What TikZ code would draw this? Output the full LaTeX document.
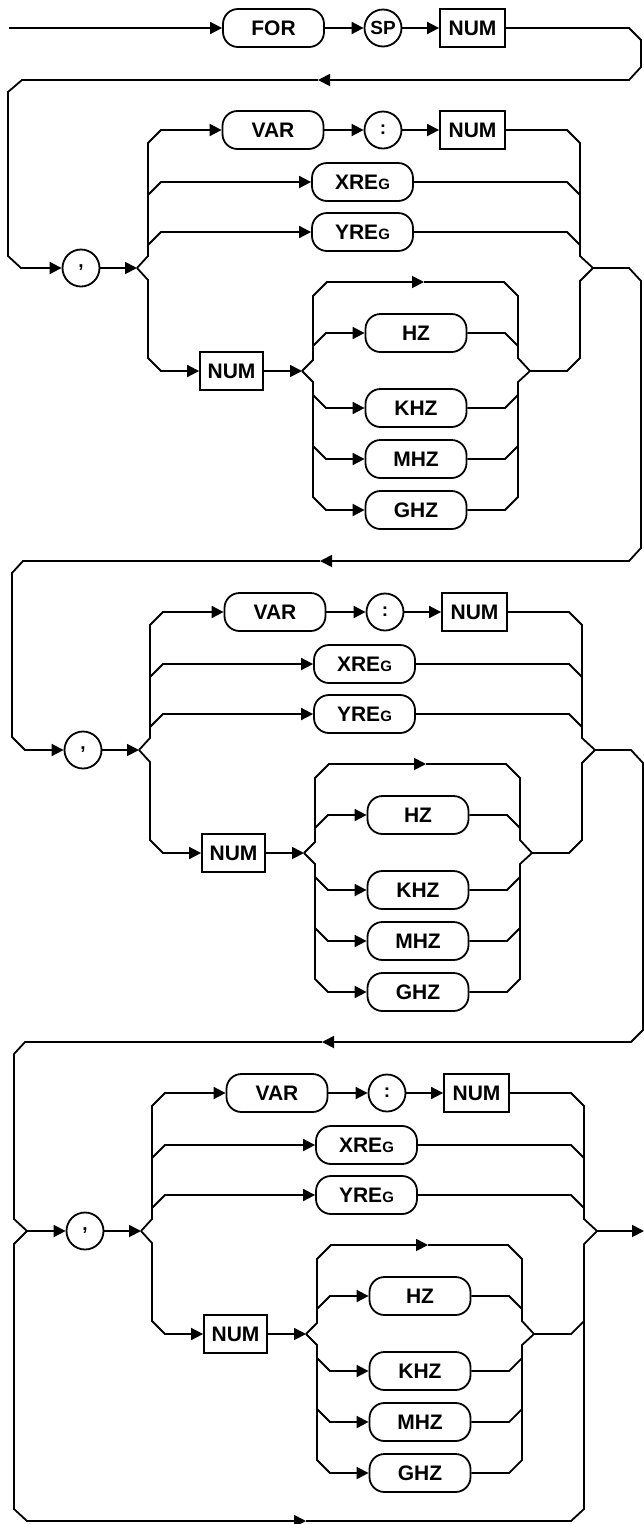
\documentclass[tikz,border=0pt]{standalone}
\usepackage{fontspec}
\setmainfont{Liberation Sans}
\usetikzlibrary{arrows.meta}
\newcommand\sgG{{\fontsize{15}{15}\selectfont G}}
\newcommand\drawgrp[3]{%
\begin{scope}[shift={(#3,#2)}]
\node[circ] (cm#1) at (81,268) {,};
\coordinate (ja#1) at (137,268);
\coordinate (jb#1) at (593,268);
\coordinate (jc#1) at (302,371);
\coordinate (jd#1) at (530,371);
\coordinate (lt#1) at (424,282);
\node[rbox] (var#1) at (273,130) {VAR};
\node[circ] (col#1) at (383,130) {:};
\node[sbox, minimum width=65] (nua#1) at (472.5,130) {NUM};
\node[rbox] (xr#1) at (362.5,182) {XRE\sgG};
\node[rbox] (yr#1) at (362.5,232) {YRE\sgG};
\node[sbox, minimum width=63] (nub#1) at (231.5,371) {NUM};
\node[rbox] (hz#1) at (416,333) {HZ};
\node[rbox] (khz#1) at (416,408) {KHZ};
\node[rbox] (mhz#1) at (416,459) {MHZ};
\node[rbox] (ghz#1) at (416,510) {GHZ};
\draw[ar] (cm#1) -- (ja#1);
\draw[ar] (ja#1) -- (148,256) -- (148,143) -- (161,130) -- (var#1.west);
\draw[ar] (var#1.east) -- (col#1.west);
\draw[ar] (col#1.east) -- (nua#1.west);
\draw (nua#1.east) -- (567,130) -- (580,143) -- (580,256) -- (jb#1);
\draw[ar] (148,195) -- (161,182) -- (xr#1.west);
\draw (xr#1.east) -- (567,182) -- (580,195);
\draw[ar] (148,245) -- (161,232) -- (yr#1.west);
\draw (yr#1.east) -- (567,232) -- (580,245);
\draw[ar] (ja#1) -- (148,280) -- (148,358) -- (161,371) -- (nub#1.west);
\draw[ar] (nub#1.east) -- (jc#1);
\draw[ar] (jc#1) -- (313,360) -- (313,296) -- (327,282) -- (lt#1);
\draw (lt#1) -- (504,282) -- (518,296) -- (518,358) -- (jd#1);
\draw[ar] (313,346) -- (326,333) -- (hz#1.west);
\draw (hz#1.east) -- (505,333) -- (518,346);
\draw[ar] (jc#1) -- (313,382) -- (313,497) -- (326,510) -- (ghz#1.west);
\draw (ghz#1.east) -- (505,510) -- (518,497) -- (518,382) -- (jd#1);
\draw[ar] (313,395) -- (326,408) -- (khz#1.west);
\draw (khz#1.east) -- (505,408) -- (518,395);
\draw[ar] (313,446) -- (326,459) -- (mhz#1.west);
\draw (mhz#1.east) -- (505,459) -- (518,446);
\draw (jd#1) -- (567,371) -- (580,358) -- (580,281) -- (jb#1);
\end{scope}}
\begin{document}
\begin{tikzpicture}[x=1pt,y=-1pt,
  line width=1.8pt, line join=miter,
  ar/.style={-{Triangle[length=12pt,width=12pt]}},
  lbl/.style={draw, line width=1.8pt, inner sep=0pt, font=\bfseries\fontsize{21}{21}\selectfont},
  rbox/.style={lbl, rectangle, rounded corners=15pt, minimum width=101, minimum height=38},
  sbox/.style={lbl, rectangle, minimum height=38},
  circ/.style={lbl, circle, minimum size=37, font=\bfseries\fontsize{19}{19}\selectfont}]
\useasboundingbox (0,0) rectangle (644,1524);
% top line
\coordinate (start) at (9,28);
\node[rbox] (for) at (273.5,28) {FOR};
\node[circ] (sp) at (383,28) {SP};
\node[sbox, minimum width=65] (nut) at (472.5,28) {NUM};
\draw[ar] (start) -- (for.west);
\draw[ar] (for.east) -- (sp.west);
\draw[ar] (sp.east) -- (nut.west);
% groups
\drawgrp{1}{0}{0}
\drawgrp{2}{482}{2}
\drawgrp{3}{963}{4}
% return 0 -> 1
\coordinate (r1) at (318,80);
\draw[ar] (nut.east) -- (629,28) -- (641,40) -- (641,67) -- (629,80) -- (r1);
\draw[ar] (r1) -- (22,80) -- (8,92) -- (8,256) -- (21,268) -- (cm1.west);
% return 1 -> 2
\coordinate (r2) at (320,561);
\draw[ar] (jb1) -- (629,268) -- (641,281) -- (641,548) -- (629,561) -- (r2);
\draw[ar] (r2) -- (23,561) -- (12,573) -- (12,737) -- (25,750) -- (cm2.west);
% return 2 -> 3
\coordinate (r3) at (322,1042);
\coordinate (jl) at (27,1231);
\draw[ar] (jb2) -- (631,750) -- (643,763) -- (643,1030) -- (631,1042) -- (r3);
\draw (r3) -- (25,1042) -- (14,1054) -- (14,1219) -- (jl);
\draw[ar] (jl) -- (cm3.west);
% bypass and exit
\coordinate (bt) at (306,1521);
\coordinate (fin) at (644,1231);
\draw[ar] (jl) -- (14,1244) -- (14,1509) -- (27,1521) -- (bt);
\draw (bt) -- (571,1521) -- (584,1509) -- (584,1321);
\draw[ar] (jb3) -- (fin);
\end{tikzpicture}
\end{document}
